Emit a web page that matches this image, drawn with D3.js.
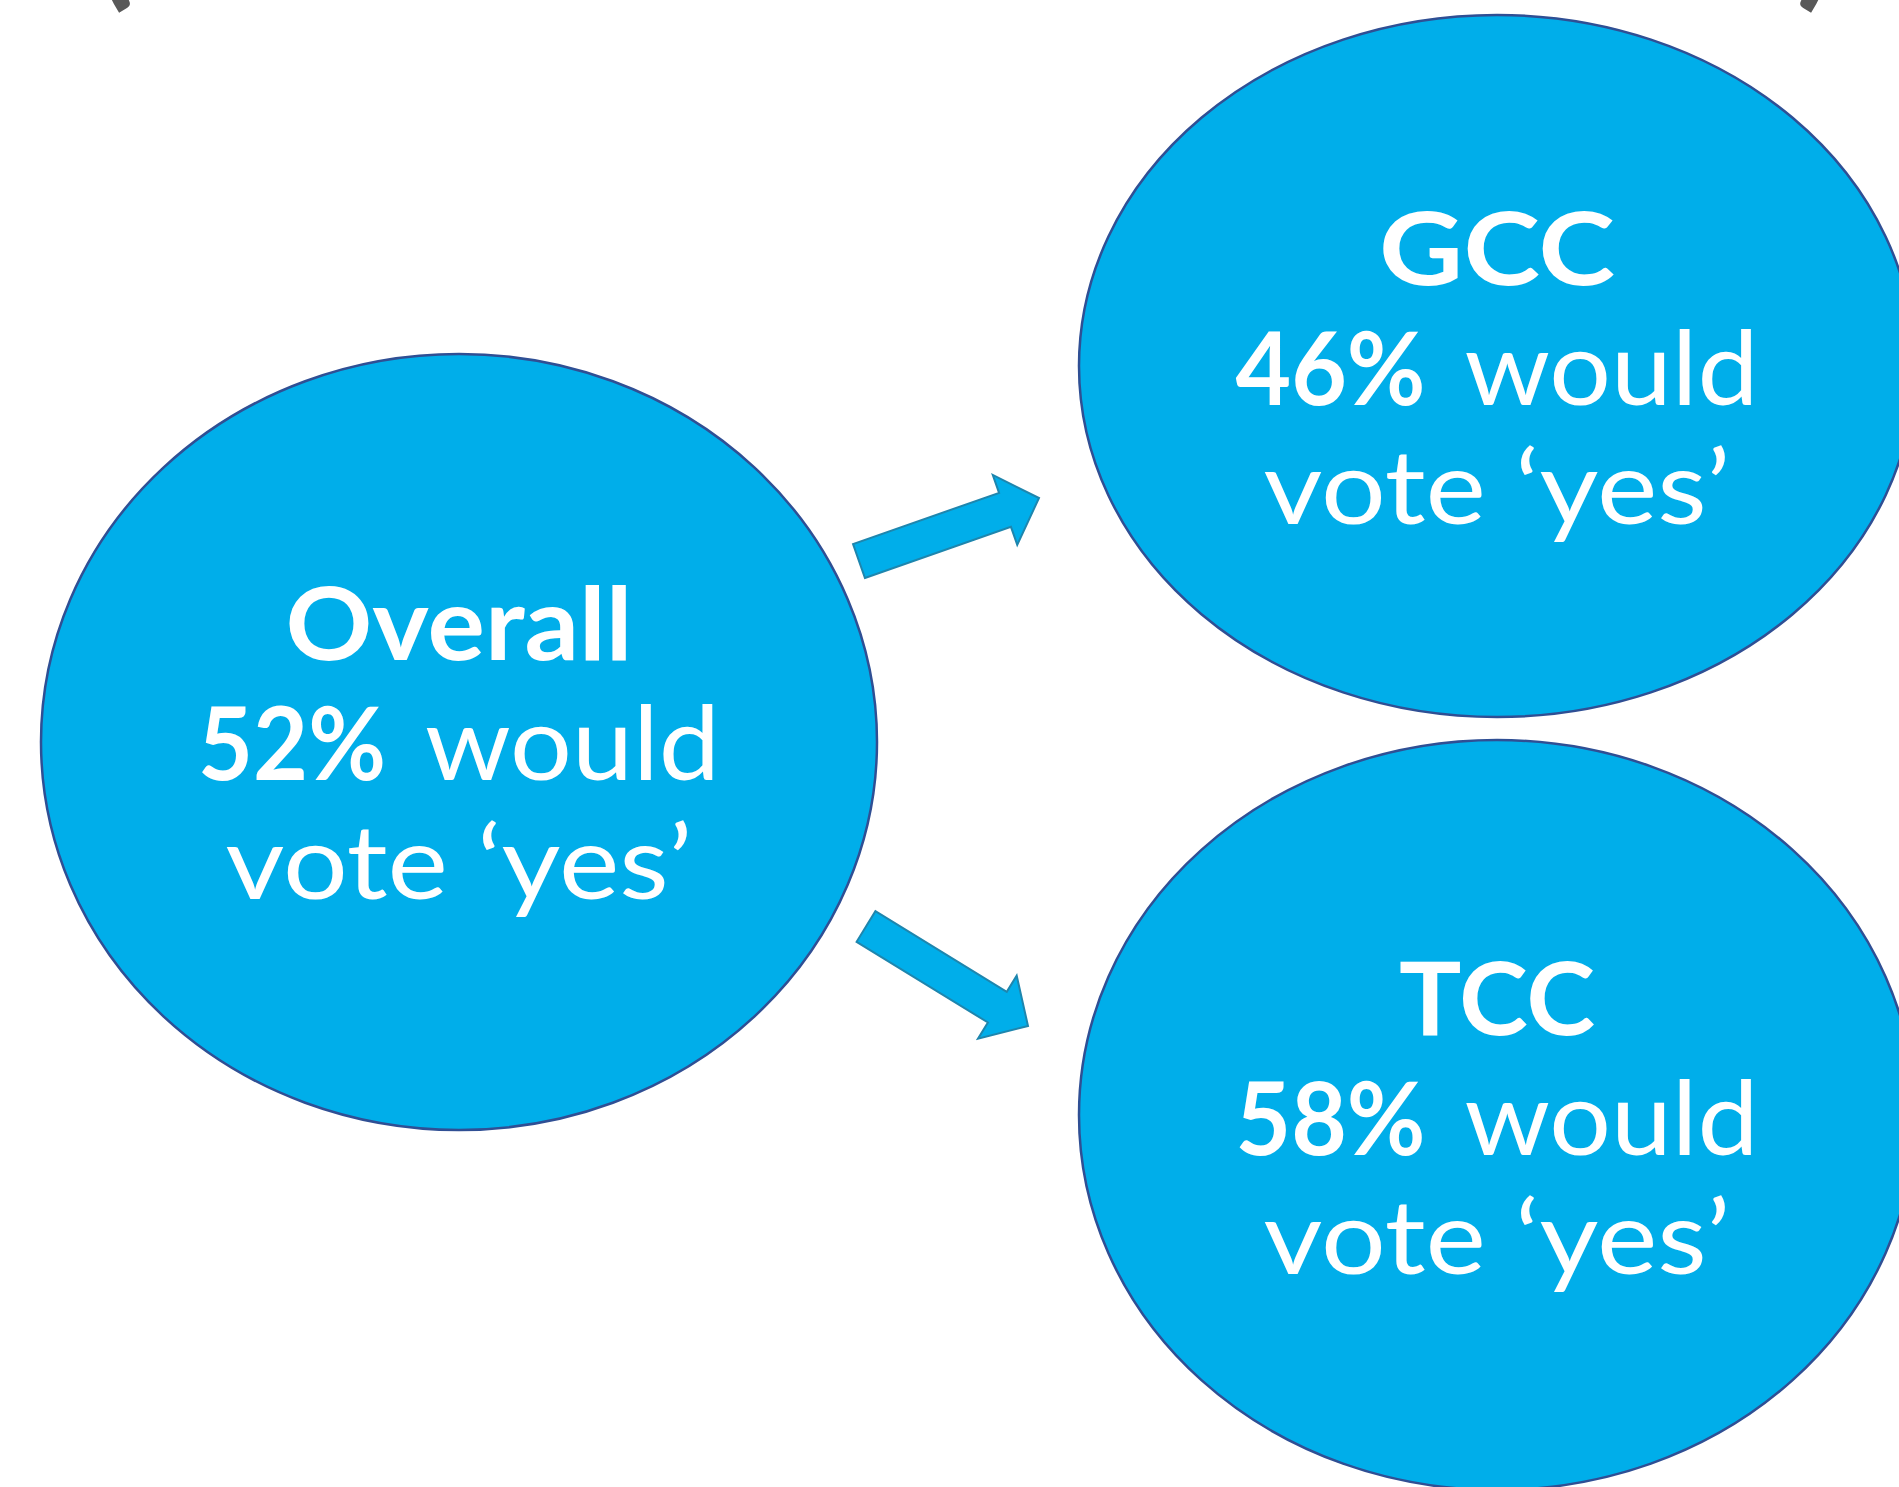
<!DOCTYPE html>
<html>
<head>
<meta charset="utf-8">
<script src="https://cdn.jsdelivr.net/npm/d3@7"></script>
<style>
  html, body { margin: 0; padding: 0; background: #ffffff; }
  svg { display: block; }
</style>
</head>
<body>
<script>
// Survey groups and the share who would vote 'yes'
const groups = ["Overall", "GCC", "TCC"];
const yesShare = [52, 46, 58];
const suffixLine1 = "would";
const line2 = "vote \u2018yes\u2019";

const W = 1899, H = 1487;
const FILL = "#00AEEA";
const EDGE = "#2F4F94";
const ARROW_EDGE = "#1E86AE";
const FONT = "Lato, 'Open Sans', sans-serif";

// Bubble geometry for each group
const bubbles = {
  Overall: { cx: 459, cy: 742, rx: 418, ry: 388, base: 660, titleW: 347, line1W: 522, numW: 188, gap: 39, line2W: 467 },
  GCC:     { cx: 1497, cy: 366, rx: 418, ry: 351, base: 285, titleW: 236, line1W: 523, numW: 190, gap: 39, line2W: 467 },
  TCC:     { cx: 1497, cy: 1115, rx: 418, ry: 375, base: 1035, titleW: 196, line1W: 523, numW: 190, gap: 39, line2W: 467 }
};
const lineGap = 120;

// Arrows from the overall bubble to the two sub-groups
const arrows = [
  { from: [859, 561], to: [1039, 498] },
  { from: [866, 926.5], to: [1028, 1026] }
];
const shaftW = 36, headW = 74, headL = 36;

const svg = d3.select("body").append("svg")
  .attr("width", W).attr("height", H)
  .attr("viewBox", `0 0 ${W} ${H}`);

// Bottoms of the bracketed header line that runs off the top edge
svg.append("text")
  .attr("x", 93).attr("y", -11)
  .attr("font-family", FONT).attr("font-size", 150)
  .attr("font-weight", 700)
  .attr("fill", "#595959")
  .text("(");
svg.append("text")
  .attr("x", 1796).attr("y", -11)
  .attr("font-family", FONT).attr("font-size", 150)
  .attr("font-weight", 700)
  .attr("fill", "#595959")
  .text(")");

// Ellipses
const data = groups.map((g, i) => ({ name: g, value: yesShare[i], ...bubbles[g] }));

svg.selectAll("ellipse.bubble")
  .data(data)
  .join("ellipse")
  .attr("class", "bubble")
  .attr("cx", d => d.cx).attr("cy", d => d.cy)
  .attr("rx", d => d.rx).attr("ry", d => d.ry)
  .attr("fill", FILL)
  .attr("stroke", EDGE)
  .attr("stroke-width", 2.5);

// Block arrows
function arrowPoints(a) {
  const [x0, y0] = a.from, [x1, y1] = a.to;
  const dx = x1 - x0, dy = y1 - y0;
  const len = Math.hypot(dx, dy);
  const ux = dx / len, uy = dy / len;
  const nx = -uy, ny = ux;
  const bx = x1 - ux * headL, by = y1 - uy * headL;
  const s = shaftW / 2, h = headW / 2;
  return [
    [x0 + nx * s, y0 + ny * s],
    [bx + nx * s, by + ny * s],
    [bx + nx * h, by + ny * h],
    [x1, y1],
    [bx - nx * h, by - ny * h],
    [bx - nx * s, by - ny * s],
    [x0 - nx * s, y0 - ny * s]
  ];
}

svg.selectAll("path.arrow")
  .data(arrows)
  .join("path")
  .attr("class", "arrow")
  .attr("d", d => d3.line()(arrowPoints(d)) + "Z")
  .attr("fill", FILL)
  .attr("stroke", ARROW_EDGE)
  .attr("stroke-width", 2)
  .attr("stroke-linejoin", "miter");

// Labels inside each bubble
const labels = svg.selectAll("g.label")
  .data(data)
  .join("g")
  .attr("class", "label")
  .attr("fill", "#ffffff")
  .attr("font-family", FONT);

labels.append("text")
  .attr("x", d => d.cx).attr("y", d => d.base)
  .attr("text-anchor", "middle")
  .attr("font-size", 102)
  .attr("font-weight", 700)
  .attr("textLength", d => d.titleW)
  .attr("lengthAdjust", "spacingAndGlyphs")
  .text(d => d.name);

const l1 = labels.append("text")
  .attr("x", d => d.cx - d.line1W / 2).attr("y", d => d.base + lineGap)
  .attr("font-size", 102);
l1.append("tspan")
  .attr("font-weight", 700)
  .attr("textLength", d => d.numW)
  .attr("lengthAdjust", "spacingAndGlyphs")
  .text(d => d.value + "%");
l1.append("tspan")
  .attr("font-weight", 400)
  .attr("x", d => d.cx - d.line1W / 2 + d.numW + d.gap)
  .attr("textLength", d => d.line1W - d.numW - d.gap)
  .attr("lengthAdjust", "spacingAndGlyphs")
  .text(suffixLine1);

labels.append("text")
  .attr("x", d => d.cx).attr("y", d => d.base + lineGap * 2 - 1)
  .attr("text-anchor", "middle")
  .attr("font-size", 102)
  .attr("font-weight", 400)
  .attr("textLength", d => d.line2W)
  .attr("lengthAdjust", "spacingAndGlyphs")
  .text(line2);
</script>
</body>
</html>
